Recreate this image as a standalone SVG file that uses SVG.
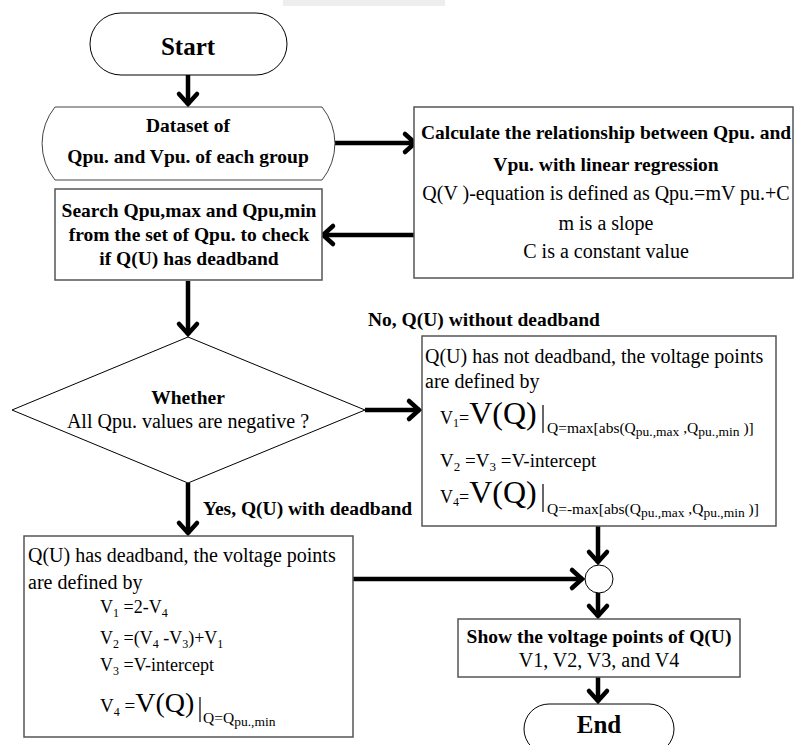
<svg xmlns="http://www.w3.org/2000/svg" width="795" height="745" viewBox="0 0 795 745">
  <defs>
    <style>
      .b { font-family: "Liberation Serif", "Times New Roman", serif; font-weight: bold; font-size: 19.5px; fill: #000; }
      .r { font-family: "Liberation Serif", "Times New Roman", serif; font-size: 20px; fill: #000; }
      .eq { font-family: "Liberation Serif", "Times New Roman", serif; font-size: 18px; fill: #000; }
      .sub { font-family: "Liberation Serif", "Times New Roman", serif; font-size: 15.5px; fill: #000; }
      .term { font-family: "Liberation Serif", "Times New Roman", serif; font-weight: bold; font-size: 25px; fill: #000; }
      .box { fill: #fff; stroke: #555; stroke-width: 1.5; }
      .thin { fill: #fff; stroke: #000; stroke-width: 1; }
      .flow { fill: none; stroke: #000; stroke-width: 4.5; }
      .bar { stroke: #000; stroke-width: 1.2; }
    </style>
    <marker id="chev" markerUnits="userSpaceOnUse" markerWidth="30" markerHeight="30" viewBox="-15 -15 30 30" refX="0" refY="0" orient="auto">
      <path d="M-11,-9 L-1,0 L-11,9" fill="none" stroke="#000" stroke-width="4.5" stroke-linejoin="miter" stroke-linecap="round"/>
    </marker>
  </defs>

  <rect x="283" y="0" width="162" height="6" fill="#eeeeee"/>

  <!-- connectors -->
  <g id="connectors" class="flow" marker-end="url(#chev)">
    <line x1="188" y1="75" x2="188" y2="105"/>
    <line x1="335" y1="143" x2="416" y2="143"/>
    <line x1="414" y1="235" x2="322" y2="235"/>
    <line x1="188" y1="281" x2="188" y2="335"/>
    <line x1="365" y1="410" x2="420" y2="410"/>
    <line x1="188" y1="483" x2="188" y2="534"/>
    <line x1="598" y1="526" x2="598" y2="563"/>
    <line x1="353" y1="579" x2="583" y2="579"/>
    <line x1="598" y1="593" x2="598" y2="617"/>
    <line x1="598" y1="677" x2="598" y2="702"/>
  </g>

  <g id="start">
    <rect class="thin" x="90" y="13" width="197" height="62" rx="31"/>
    <text class="term" x="188" y="55" text-anchor="middle">Start</text>
  </g>

  <g id="dataset">
    <path class="thin" style="stroke:#444" d="M55,107 L322,107 A58,58 0 0 1 322,180 L55,180 A58,58 0 0 1 55,107 Z"/>
    <text class="b" x="188" y="132" text-anchor="middle">Dataset of</text>
    <text class="b" x="188" y="163" text-anchor="middle">Qpu. and Vpu. of each group</text>
  </g>

  <g id="regression">
    <rect class="box" x="414" y="107" width="379" height="171"/>
    <text class="b" x="606" y="139" text-anchor="middle">Calculate the relationship between Qpu. and</text>
    <text class="b" x="606" y="171" text-anchor="middle">Vpu. with linear regression</text>
    <text class="r" x="606" y="200" text-anchor="middle">Q(V )-equation is defined as Qpu.=mV pu.+C</text>
    <text class="r" x="606" y="230" text-anchor="middle">m is a slope</text>
    <text class="r" x="606" y="258" text-anchor="middle">C is a constant value</text>
  </g>

  <g id="search">
    <rect class="box" x="55" y="189" width="267" height="91"/>
    <text class="b" x="189" y="217" text-anchor="middle">Search Qpu,max and Qpu,min</text>
    <text class="b" x="189" y="241" text-anchor="middle">from the set of Qpu. to check</text>
    <text class="b" x="189" y="265" text-anchor="middle">if Q(U) has deadband</text>
  </g>

  <g id="decision">
    <polygon class="thin" points="188,337 365,410 188,483 12,410"/>
    <text class="b" x="188" y="404" text-anchor="middle">Whether</text>
    <text class="r" x="188" y="428" text-anchor="middle">All Qpu. values are negative ?</text>
  </g>

  <text class="b" x="368" y="326">No, Q(U) without deadband</text>
  <text class="b" x="203" y="515">Yes, Q(U) with deadband</text>

  <g id="no-deadband">
    <rect class="box" x="422" y="336" width="354" height="190"/>
    <text class="r" x="425" y="363">Q(U) has not deadband, the voltage points</text>
    <text class="r" x="425" y="388">are defined by</text>
    <text class="eq" x="440" y="424">V<tspan style="font-size:12px" dy="3">1</tspan><tspan dy="-3">=</tspan><tspan style="font-size:32px">V(Q)</tspan></text>
    <line class="bar" x1="543" y1="405" x2="543" y2="433"/>
    <text class="sub" x="547" y="433">Q=max[abs(Q<tspan style="font-size:13.5px" dy="3">pu.,max</tspan><tspan dy="-3"> ,Q</tspan><tspan style="font-size:13.5px" dy="3">pu.,min</tspan><tspan dy="-3"> )]</tspan></text>
    <text class="eq" x="440" y="467" style="font-size:19px">V<tspan style="font-size:13px" dy="4">2</tspan><tspan dy="-4"> =V</tspan><tspan style="font-size:13px" dy="4">3</tspan><tspan dy="-4"> =V-intercept</tspan></text>
    <text class="eq" x="440" y="503">V<tspan style="font-size:12px" dy="3">4</tspan><tspan dy="-3">=</tspan><tspan style="font-size:32px">V(Q)</tspan></text>
    <line class="bar" x1="543" y1="484" x2="543" y2="512"/>
    <text class="sub" x="547" y="514">Q=-max[abs(Q<tspan style="font-size:13.5px" dy="3">pu.,max</tspan><tspan dy="-3"> ,Q</tspan><tspan style="font-size:13.5px" dy="3">pu.,min</tspan><tspan dy="-3"> )]</tspan></text>
  </g>

  <g id="deadband">
    <rect class="box" x="24" y="536" width="329" height="201"/>
    <text class="r" x="28" y="562">Q(U) has deadband, the voltage points</text>
    <text class="r" x="28" y="589">are defined by</text>
    <text class="eq" x="100" y="613">V<tspan style="font-size:12px" dy="4">1</tspan><tspan dy="-4"> =2-V</tspan><tspan style="font-size:12px" dy="4">4</tspan></text>
    <text class="eq" x="100" y="644">V<tspan style="font-size:12px" dy="4">2</tspan><tspan dy="-4"> =(V</tspan><tspan style="font-size:12px" dy="4">4</tspan><tspan dy="-4"> -V</tspan><tspan style="font-size:12px" dy="4">3</tspan><tspan dy="-4">)+V</tspan><tspan style="font-size:12px" dy="4">1</tspan></text>
    <text class="eq" x="100" y="671">V<tspan style="font-size:12px" dy="4">3</tspan><tspan dy="-4"> =V-intercept</tspan></text>
    <text class="eq" x="100" y="712" style="font-size:19px">V<tspan style="font-size:12px" dy="4">4</tspan><tspan dy="-4"> =</tspan><tspan style="font-size:28px">V(Q)</tspan></text>
    <line class="bar" x1="200" y1="697" x2="200" y2="722"/>
    <text class="sub" x="203" y="723">Q=Q<tspan style="font-size:13.5px" dy="3">pu.,min</tspan></text>
  </g>

  <g id="merge">
    <circle class="thin" cx="599" cy="579" r="14"/>
  </g>

  <g id="result">
    <rect class="box" x="458" y="619" width="282" height="58"/>
    <text class="b" x="599" y="643" text-anchor="middle">Show the voltage points of Q(U)</text>
    <text class="r" x="599" y="667" text-anchor="middle">V1, V2, V3, and V4</text>
  </g>

  <g id="end">
    <rect class="thin" x="524" y="704" width="150" height="50" rx="25"/>
    <text class="term" x="599" y="733" text-anchor="middle">End</text>
  </g>
</svg>
